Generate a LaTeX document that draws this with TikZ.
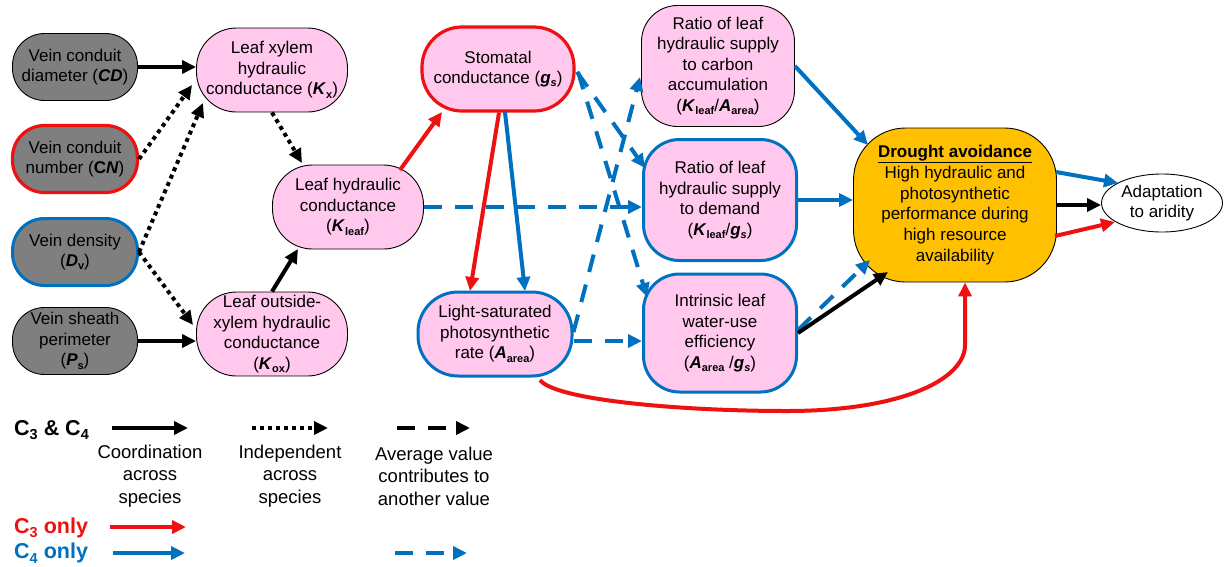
\documentclass[tikz,border=0pt]{standalone}
\usepackage{fontspec}
\setmainfont{Liberation Sans}
\usetikzlibrary{arrows.meta,shapes.geometric}
\definecolor{pinkc}{HTML}{FFC8EC}
\definecolor{grayc}{HTML}{7F7F7F}
\definecolor{redc}{HTML}{EE1111}
\definecolor{bluec}{HTML}{0070C0}
\definecolor{orangec}{HTML}{FFC000}
\newcommand\bi[1]{\textbf{\textit{#1}}}
\newcommand\sbs[1]{\raisebox{-0.35ex}{\fontsize{11}{11}\selectfont\bfseries #1}}
\newcommand\sbsL[1]{\raisebox{-0.4ex}{\fontsize{14.5}{14.5}\selectfont\bfseries #1}}
\begin{document}
\begin{tikzpicture}[x=1pt,y=-1pt,
  every node/.style={font=\fontsize{17}{20.5}\selectfont, align=center, inner sep=0pt},
  graybox/.style={fill=grayc, minimum width=125pt, minimum height=67pt, rounded corners=32pt},
  pinkbox/.style={fill=pinkc, minimum width=151pt, minimum height=84pt, rounded corners=40pt},
  ratiobox/.style={fill=pinkc, minimum width=153pt, minimum height=121pt, rounded corners=36pt},
  thinb/.style={draw=black, line width=0.9pt},
  redb/.style={draw=redc, line width=3.2pt},
  blueb/.style={draw=bluec, line width=3pt},
  arr/.style={line width=4pt, -{Triangle[length=14pt,width=13pt]}},
  dotarr/.style={arr, dash pattern=on 4pt off 4pt},
  dasharr/.style={arr, dash pattern=on 18pt off 13pt},
  legtext/.style={font=\fontsize{18.5}{22.5}\selectfont},
  leglab/.style={font=\fontsize{21.5}{22}\selectfont\bfseries, anchor=west}
]
\useasboundingbox (0,0) rectangle (1225,566);

% left column
\node[graybox, thinb] (cd) at (75,67) {Vein conduit\\diameter (\bi{CD})};
\node[graybox, redb] (cn) at (75,159) {Vein conduit\\number (\textbf{C\textit{N}})};
\node[graybox, blueb] (dv) at (75,252) {Vein density\\(\bi{D}\sbs{v})};
\node[graybox, thinb] (ps) at (75,341) {Vein sheath\\perimeter\\(\bi{P}\sbs{s})};

% second column
\node[pinkbox, thinb] (kx) at (272,70) {Leaf xylem\\hydraulic\\conductance (\bi{K}\sbs{x})};
\node[pinkbox, thinb] (kleaf) at (348,207) {Leaf hydraulic\\conductance\\(\bi{K}\sbs{leaf})};
\node[pinkbox, thinb] (kox) at (272,334) {Leaf outside-\\xylem hydraulic\\conductance\\(\bi{K}\sbs{ox})};

% third column
\node[pinkbox, redb, minimum width=152pt] (gs) at (498,69) {Stomatal\\conductance (\bi{g}\sbs{\textit{s}})};
\node[pinkbox, blueb, minimum width=154pt] (aa) at (495,334) {Light-saturated\\photosynthetic\\rate (\bi{A}\sbs{area})};

% ratio column
\node[ratiobox, thinb] (rc) at (718,66) {Ratio of leaf\\hydraulic supply\\to carbon\\accumulation\\(\bi{K}\sbs{leaf}/\bi{A}\sbs{area})};
\node[ratiobox, blueb] (rd) at (720,200) {Ratio of leaf\\hydraulic supply\\to demand\\(\bi{K}\sbs{leaf}/\bi{g}\sbs{\textit{s}})};
\node[ratiobox, blueb, minimum height=118pt] (wue) at (720,333) {Intrinsic leaf\\water-use\\efficiency\\(\bi{A}\sbs{area} /\bi{g}\sbs{\textit{s}})};

% drought avoidance and adaptation
\node[thinb, fill=orangec, minimum width=203pt, minimum height=154pt, rounded corners=52pt, font=\fontsize{17}{20.7}\selectfont] (dr) at (955,205)
  {\textbf{\underline{Drought avoidance}}\\High hydraulic and\\photosynthetic\\performance during\\high resource\\availability};
\node[ellipse, thinb, fill=white, minimum width=121pt, minimum height=58pt] (ad) at (1162,203) {Adaptation\\to aridity};

% connectors: left part
\draw[arr] (cd.east) -- (cd.east -| kx.west);
\draw[dotarr] (cn.east) -- ([shift={(-4,15)}]kx.west);
\draw[dotarr] (dv.east) -- ([shift={(-69,33)}]kx.center);
\draw[dotarr] (dv.east) -- ([shift={(-3,-9)}]kox.west);
\draw[arr] (ps.east) -- (ps.east -| kox.west);
\draw[dotarr] (kx.south) -- ([shift={(-46,-44)}]kleaf.center);
\draw[arr] (kox.north) -- ([shift={(-50,42)}]kleaf.center);

% middle
\draw[arr, draw=redc] ([shift={(52,-37)}]kleaf.center) -- ([shift={(-56,43)}]gs.center);
\draw[dasharr, draw=bluec] (kleaf.east) -- (kleaf.east -| rd.west);
\draw[arr, draw=redc] ([shift={(1,0)}]gs.south) -- ([shift={(-25,-43)}]aa.center);
\draw[arr, draw=bluec] ([shift={(7,43)}]gs.center) -- ([shift={(30,-43)}]aa.center);
\draw[dasharr, draw=bluec] ([shift={(79,3)}]gs.center) -- ([shift={(-75,-32)}]rd.center);
\draw[dasharr, draw=bluec] ([shift={(80,3)}]gs.center) -- ([shift={(-73,-36)}]wue.center);
\draw[dasharr, draw=bluec] ([shift={(0,-2)}]aa.east) -- ([shift={(-78,11)}]rc.center);
\draw[dasharr, draw=bluec] ([shift={(0,7)}]aa.east) -- ([shift={(0,7)}]aa.east -| wue.west);
\draw[arr, draw=redc] ([shift={(45,46)}]aa.center)
  .. controls (555,400) and (680,411) .. (787,411)
  .. controls (900,411) and (965,380) .. (965,345)
  -- ([shift={(10,0)}]dr.south);

% right part
\draw[arr, draw=bluec] (rc.east) -- ([shift={(-87,-60)}]dr.center);
\draw[arr, draw=bluec] (rd.east) -- (rd.east -| dr.west);
\draw[dasharr, draw=bluec] ([shift={(0,-3)}]wue.east) -- ([shift={(-85,55)}]dr.center);
\draw[arr] (wue.east) -- ([shift={(-67,67)}]dr.center);
\draw[arr, draw=bluec] ([shift={(101,-33)}]dr.center) -- ([shift={(-44,-20)}]ad.center);
\draw[arr] (dr.east) -- (dr.east -| ad.west);
\draw[arr, draw=redc] ([shift={(100,31)}]dr.center) -- ([shift={(-47,19)}]ad.center);

% legend
\node[leglab] (l34) at (14,430) {C\sbsL{3} \& C\sbsL{4}};
\node[leglab, text=redc] (l3) at (14,528) {C\sbsL{3} only};
\node[leglab, text=bluec] (l4) at (14,553) {C\sbsL{4} only};
\node[legtext] (lt1) at (150,476) {Coordination\\across\\species};
\node[legtext] (lt2) at (290,476) {Independent\\across\\species};
\node[legtext] (lt3) at (434,476) {Average value\\contributes to\\another value};
\coordinate (a1s) at (112,428); \coordinate (a1e) at (188,428);
\coordinate (a2s) at (252,428); \coordinate (a2e) at (328,428);
\coordinate (a3s) at (397,428); \coordinate (a3e) at (470,428);
\coordinate (a4s) at (110,527); \coordinate (a4e) at (186,527);
\coordinate (a5s) at (113,553); \coordinate (a5e) at (185,553);
\coordinate (a6s) at (395,553); \coordinate (a6e) at (467,553);
\draw[arr] (a1s) -- (a1e);
\draw[dotarr] (a2s) -- (a2e);
\draw[dasharr] (a3s) -- (a3e);
\draw[arr, draw=redc] (a4s) -- (a4e);
\draw[arr, draw=bluec] (a5s) -- (a5e);
\draw[dasharr, draw=bluec] (a6s) -- (a6e);
\end{tikzpicture}
\end{document}
